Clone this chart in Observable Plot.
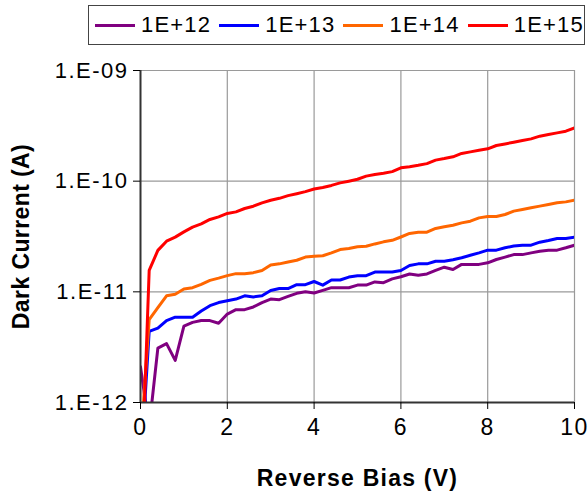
<!DOCTYPE html>
<html>
<head>
<meta charset="utf-8">
<script src="https://cdn.jsdelivr.net/npm/d3@7"></script>
<script src="https://cdn.jsdelivr.net/npm/@observablehq/plot@0.6"></script>
<style>
  html, body { margin: 0; padding: 0; background: #fff; }
  body { width: 588px; height: 495px; overflow: hidden; font-family: "Liberation Sans", Arial, sans-serif; }
  #legend {
    box-sizing: border-box; margin: 5px 0 5px 88px; width: 497px; height: 40px;
    border: 1.5px solid #444; display: flex; align-items: center; padding-left: 6px;
  }
  .item { display: flex; align-items: center; margin-right: 8px; }
  .swatch { width: 40px; height: 3px; margin-right: 6px; }
  .lab { font-size: 22px; letter-spacing: 1.2px; color: #000; line-height: 1; }
  #chart svg { display: block; }
  g[aria-label="y-axis tick label"] text, g[aria-label="x-axis tick label"] text { letter-spacing: 1.5px; }
  g[aria-label="x-axis label"] text { font-weight: bold; font-size: 23px; letter-spacing: 1.25px; }
  g[aria-label="y-axis label"] text { font-weight: bold; font-size: 23px; letter-spacing: 0.4px; }
</style>
</head>
<body>
<div id="legend"></div>
<div id="chart"></div>
<script>
const bias = [0,0.2,0.4,0.6,0.8,1,1.2,1.4,1.6,1.8,2,2.2,2.4,2.6,2.8,3,3.2,3.4,3.6,3.8,4,4.2,4.4,4.6,4.8,5,5.2,5.4,5.6,5.8,6,6.2,6.4,6.6,6.8,7,7.2,7.4,7.6,7.8,8,8.2,8.4,8.6,8.8,9,9.2,9.4,9.6,9.8,10];

const seriesNames = ["1E+12", "1E+13", "1E+14", "1E+15"];
const seriesColors = ["#800080", "#0000ff", "#ff6600", "#ff0000"];

const current1E12 = [2.1e-12,6e-13,3.1e-12,3.4e-12,2.4e-12,4.9e-12,5.3e-12,5.5e-12,5.5e-12,5.2e-12,6.3e-12,6.9e-12,6.9e-12,7.3e-12,8.0e-12,8.6e-12,8.5e-12,9.1e-12,9.7e-12,1.0e-11,9.75e-12,1.03e-11,1.09e-11,1.09e-11,1.09e-11,1.15e-11,1.15e-11,1.23e-11,1.21e-11,1.31e-11,1.37e-11,1.45e-11,1.41e-11,1.45e-11,1.56e-11,1.67e-11,1.59e-11,1.77e-11,1.77e-11,1.77e-11,1.83e-11,1.96e-11,2.06e-11,2.17e-11,2.17e-11,2.25e-11,2.33e-11,2.38e-11,2.38e-11,2.5e-11,2.64e-11];

const current1E13 = [2.3e-13,4.4e-12,4.7e-12,5.5e-12,5.9e-12,5.9e-12,5.9e-12,6.7e-12,7.5e-12,8.0e-12,8.3e-12,8.6e-12,9.2e-12,9.0e-12,9.2e-12,1.03e-11,1.07e-11,1.07e-11,1.16e-11,1.16e-11,1.24e-11,1.15e-11,1.28e-11,1.28e-11,1.36e-11,1.4e-11,1.4e-11,1.51e-11,1.51e-11,1.51e-11,1.56e-11,1.73e-11,1.79e-11,1.79e-11,1.89e-11,1.89e-11,1.95e-11,2.03e-11,2.14e-11,2.25e-11,2.38e-11,2.38e-11,2.5e-11,2.59e-11,2.64e-11,2.64e-11,2.81e-11,2.91e-11,3.03e-11,3.03e-11,3.12e-11];

const current1E14 = [4e-13,5.6e-12,7.2e-12,9.2e-12,9.5e-12,1.06e-11,1.09e-11,1.17e-11,1.27e-11,1.33e-11,1.40e-11,1.46e-11,1.46e-11,1.49e-11,1.56e-11,1.75e-11,1.79e-11,1.86e-11,1.93e-11,2.06e-11,2.1e-11,2.12e-11,2.25e-11,2.41e-11,2.46e-11,2.55e-11,2.58e-11,2.71e-11,2.83e-11,2.92e-11,3.13e-11,3.37e-11,3.46e-11,3.46e-11,3.74e-11,3.87e-11,4.0e-11,4.2e-11,4.35e-11,4.66e-11,4.8e-11,4.8e-11,5.0e-11,5.36e-11,5.55e-11,5.74e-11,5.95e-11,6.16e-11,6.37e-11,6.5e-11,6.75e-11];

const current1E15 = [1e-13,1.56e-11,2.37e-11,2.87e-11,3.12e-11,3.48e-11,3.84e-11,4.11e-11,4.51e-11,4.76e-11,5.11e-11,5.28e-11,5.66e-11,5.94e-11,6.37e-11,6.73e-11,7.0e-11,7.4e-11,7.7e-11,8.04e-11,8.5e-11,8.77e-11,9.15e-11,9.65e-11,1.0e-10,1.04e-10,1.11e-10,1.15e-10,1.18e-10,1.22e-10,1.32e-10,1.35e-10,1.39e-10,1.44e-10,1.55e-10,1.6e-10,1.66e-10,1.78e-10,1.84e-10,1.9e-10,1.96e-10,2.1e-10,2.17e-10,2.25e-10,2.33e-10,2.41e-10,2.55e-10,2.64e-10,2.73e-10,2.83e-10,3.03e-10];

const xTicks = [0, 2, 4, 6, 8, 10];
const yTicks = [1e-12, 1e-11, 1e-10, 1e-9];
const yTickLabels = ["1.E-12", "1.E-11", "1.E-10", "1.E-09"];

const allSeries = [current1E12, current1E13, current1E14, current1E15];
const rows = [];
allSeries.forEach((vals, i) => {
  vals.forEach((v, j) => rows.push({bias: bias[j], current: v, series: seriesNames[i]}));
});

// HTML legend
const legend = document.getElementById("legend");
seriesNames.forEach((name, i) => {
  const item = document.createElement("div");
  item.className = "item";
  const sw = document.createElement("div");
  sw.className = "swatch";
  sw.style.background = seriesColors[i];
  const lab = document.createElement("span");
  lab.className = "lab";
  lab.textContent = name;
  item.appendChild(sw);
  item.appendChild(lab);
  legend.appendChild(item);
});

const chart = Plot.plot({
  width: 588,
  height: 445,
  marginTop: 20,
  marginLeft: 140,
  marginRight: 14,
  marginBottom: 93,
  style: {fontFamily: "'Liberation Sans', Arial, sans-serif", color: "#000", background: "#fff"},
  x: {domain: [0, 10]},
  y: {type: "log", domain: [1e-12, 1e-9]},
  color: {domain: seriesNames, range: seriesColors},
  marks: [
    Plot.gridX(xTicks.slice(1), {stroke: "#9a9a9a", strokeOpacity: 1, strokeWidth: 1.2}),
    Plot.gridY(yTicks.slice(1), {stroke: "#9a9a9a", strokeOpacity: 1, strokeWidth: 1.2}),
    Plot.line(rows, {x: "bias", y: "current", z: "series", stroke: "series", strokeWidth: 3, clip: true, strokeLinejoin: "round"}),
    Plot.ruleX([0], {stroke: "#333", strokeWidth: 2}),
    Plot.ruleY([1e-12], {stroke: "#333", strokeWidth: 2}),
    Plot.axisX({ticks: xTicks, tickSize: 7, tickPadding: 9, fontSize: 23, tickFormat: d => String(d),
      label: "Reverse Bias (V)", labelAnchor: "center", labelOffset: 83, labelArrow: "none"}),
    Plot.axisY({ticks: yTicks, tickSize: 7, tickPadding: 5, fontSize: 22,
      tickFormat: (d, i) => yTickLabels[yTicks.indexOf(d)],
      label: "Dark Current (A)", labelAnchor: "center", labelOffset: 128, labelArrow: "none"})
  ]
});
document.getElementById("chart").appendChild(chart);
</script>
</body>
</html>
